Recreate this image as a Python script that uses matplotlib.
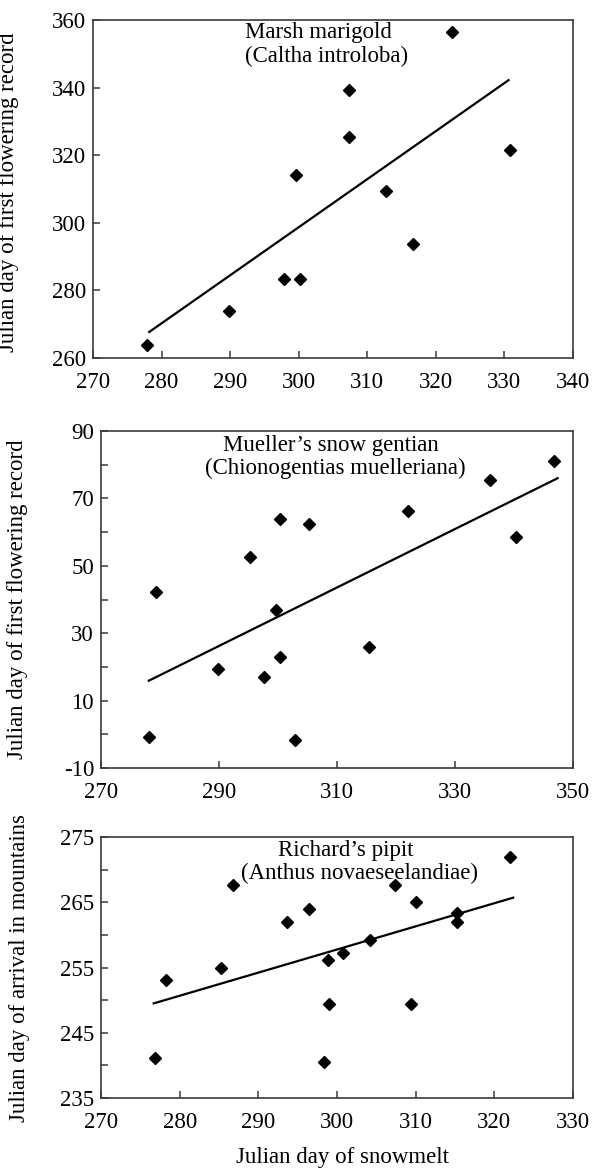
import matplotlib
matplotlib.use("Agg")
import matplotlib.pyplot as plt
from matplotlib.ticker import FixedLocator

plt.rcParams['font.family'] = ['Liberation Serif', 'DejaVu Serif']
plt.rcParams['axes.unicode_minus'] = False

# ---- Data: Marsh marigold ----
mm_x = [277.9, 289.8, 297.8, 300.2, 299.6, 307.4, 307.4, 312.8, 316.6, 322.3, 330.8]
mm_y = [263.9, 274.0, 283.4, 283.4, 314.0, 325.4, 339.3, 309.4, 293.6, 356.5, 321.6]
mm_fit_x = [278.2, 330.6]
mm_fit_y = [267.7, 342.2]
mm_xticks = [270, 280, 290, 300, 310, 320, 330, 340]
mm_yticks = [260, 280, 300, 320, 340, 360]
mm_yminor = []

# ---- Data: Mueller's snow gentian ----
sg_x = [278.1, 279.4, 289.8, 295.3, 297.7, 299.7, 300.4, 300.4, 302.9, 305.2, 315.5, 322.0, 336.0, 340.3, 346.8]
sg_y = [-0.8, 42.1, 19.4, 52.7, 17.0, 36.8, 22.9, 63.9, -1.6, 62.3, 25.9, 66.3, 75.5, 58.5, 81.1]
sg_fit_x = [278.1, 347.4]
sg_fit_y = [15.9, 76.0]
sg_xticks = [270, 290, 310, 330, 350]
sg_yticks = [-10, 10, 30, 50, 70, 90]
sg_yminor = [0, 20, 40, 60, 80]

# ---- Data: Richard's pipit ----
rp_x = [276.9, 278.3, 285.2, 286.8, 293.7, 296.4, 298.3, 298.9, 299.0, 300.7, 304.2, 307.4, 309.4, 310.1, 315.2, 315.2, 322.0]
rp_y = [241.2, 253.1, 255.0, 267.7, 261.9, 263.9, 240.5, 256.2, 249.4, 257.2, 259.2, 267.7, 249.4, 265.1, 263.4, 262.0, 272.0]
rp_fit_x = [276.7, 322.4]
rp_fit_y = [249.5, 265.7]
rp_xticks = [270, 280, 290, 300, 310, 320, 330]
rp_yticks = [235, 245, 255, 265, 275]
rp_yminor = [240, 250, 260, 270]

W, H = 593, 1171
fig = plt.figure(figsize=(W / 100, H / 100), dpi=100)

def px_axes(l, r, t, b):
    return fig.add_axes([l / W, (H - b) / H, (r - l) / W, (b - t) / H])

ax1 = px_axes(93, 573, 20, 358)
ax2 = px_axes(101, 573, 431, 768)
ax3 = px_axes(101, 573, 837, 1098)

FS = 16.5
SPINE = '#3a3a3a'

def style(ax, xticks, yticks, yminor):
    ax.set_xlim(xticks[0], xticks[-1])
    ax.set_ylim(yticks[0], yticks[-1])
    ax.xaxis.set_major_locator(FixedLocator(xticks))
    ax.yaxis.set_major_locator(FixedLocator(yticks))
    ax.yaxis.set_minor_locator(FixedLocator(yminor))
    for s in ax.spines.values():
        s.set_color(SPINE)
        s.set_linewidth(1.2)
    ax.tick_params(which='both', direction='in', length=5, width=1.1, color=SPINE,
                   labelsize=FS, top=False, right=False)
    ax.tick_params(axis='x', pad=10)
    ax.tick_params(axis='y', pad=5)

def draw(ax, x, y, fx, fy):
    ax.plot(fx, fy, color='black', lw=1.6, zorder=2)
    ax.plot(x, y, linestyle='none', marker='D', ms=6.3, color='black', zorder=3, clip_on=False)

draw(ax1, mm_x, mm_y, mm_fit_x, mm_fit_y)
style(ax1, mm_xticks, mm_yticks, mm_yminor)
ax1.set_ylabel('Julian day of first flowering record', fontsize=FS)
ax1.yaxis.set_label_coords(-0.154, 0.49)
ax1.text(0.470, 0.962, 'Marsh marigold', transform=ax1.transAxes, ha='center', va='center', fontsize=FS)
ax1.text(0.487, 0.891, '(Caltha introloba)', transform=ax1.transAxes, ha='center', va='center', fontsize=FS)

draw(ax2, sg_x, sg_y, sg_fit_x, sg_fit_y)
style(ax2, sg_xticks, sg_yticks, sg_yminor)
ax2.set_ylabel('Julian day of first flowering record', fontsize=FS)
ax2.yaxis.set_label_coords(-0.155, 0.5)
ax2.text(0.486, 0.958, 'Mueller\u2019s snow gentian', transform=ax2.transAxes, ha='center', va='center', fontsize=FS)
ax2.text(0.497, 0.890, '(Chionogentias muelleriana)', transform=ax2.transAxes, ha='center', va='center', fontsize=FS)

draw(ax3, rp_x, rp_y, rp_fit_x, rp_fit_y)
style(ax3, rp_xticks, rp_yticks, rp_yminor)
ax3.set_ylabel('Julian day of arrival in mountains', fontsize=FS)
ax3.yaxis.set_label_coords(-0.151, 0.5)
ax3.text(0.518, 0.950, 'Richard\u2019s pipit', transform=ax3.transAxes, ha='center', va='center', fontsize=FS)
ax3.text(0.547, 0.862, '(Anthus novaeseelandiae)', transform=ax3.transAxes, ha='center', va='center', fontsize=FS)

fig.text(343 / W, 1 - 1158 / H, 'Julian day of snowmelt', ha='center', va='center', fontsize=FS)

fig.savefig('out.png', dpi=100, facecolor='white')
